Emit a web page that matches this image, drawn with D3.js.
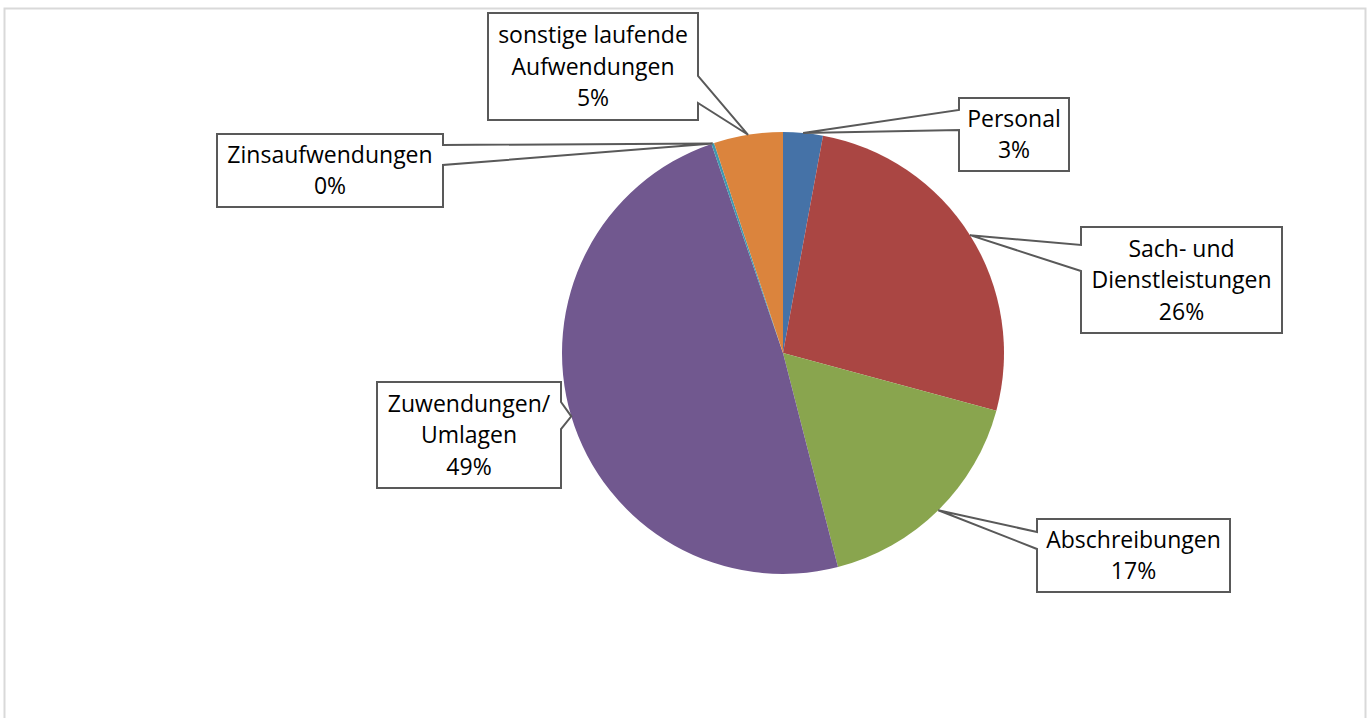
<!DOCTYPE html>
<html>
  <head>
    <meta http-equiv="Content-Type" content="text/html; charset=UTF-8">
    <style type="text/css">
      body { margin: 0; background: #fff; }
      text {
        font-family: 'Open Sans', sans-serif;
        font-size: 23px;
        fill: #000;
      }
    </style>
  </head>
  <body>
    <div id="canvas"></div>
    <script type="text/javascript" src="https://d3js.org/d3.v7.min.js"></script>
    <script type="text/javascript">

      // shares (percent of total)
      var categories = ['Personal', 'Sach- und Dienstleistungen', 'Abschreibungen',
                        'Zuwendungen/ Umlagen', 'Zinsaufwendungen', 'sonstige laufende Aufwendungen'];
      var values = [2.9, 26.3, 16.8, 48.75, 0.2, 5.05];
      var colors = ['#4572A7', '#AA4643', '#89A54E', '#71588F', '#4198AF', '#DB843D'];
      // how each label breaks into lines
      var labelLines = [
        ['Personal'],
        ['Sach- und', 'Dienstleistungen'],
        ['Abschreibungen'],
        ['Zuwendungen/', 'Umlagen'],
        ['Zinsaufwendungen'],
        ['sonstige laufende', 'Aufwendungen']
      ];

      // callout boxes: x0,y0,x1,y1 and which side the wedge leaves from
      var callouts = [
        {x0: 959, y0: 98,  x1: 1069, y1: 171, side: 'left',  b0: 110, b1: 130},
        {x0: 1081, y0: 227, x1: 1282, y1: 333, side: 'left',  b0: 245, b1: 271},
        {x0: 1037, y0: 519, x1: 1230, y1: 592, side: 'left',  b0: 532, b1: 549},
        {x0: 377, y0: 382, x1: 561, y1: 488, side: 'right', b0: 402, b1: 429},
        {x0: 217, y0: 134, x1: 443, y1: 207, side: 'right', b0: 145, b1: 165},
        {x0: 488, y0: 13,  x1: 698, y1: 120, side: 'right', b0: 76,  b1: 103}
      ];

      var width = 1370, height = 718;
      var cx = 783, cy = 353, radius = 221;

      var svg = d3.select('#canvas').append('svg')
                  .attr('width', width)
                  .attr('height', height);

      // chart frame
      svg.append('rect')
         .attr('x', 4.5).attr('y', 8.5)
         .attr('width', 1361).attr('height', 730)
         .attr('fill', 'none')
         .attr('stroke', '#d9d9d9')
         .attr('stroke-width', 2);

      var total = d3.sum(values);
      var pie = d3.pie().sort(null).value(function (d) { return d; });
      var arcs = pie(values);
      var arc = d3.arc().innerRadius(0).outerRadius(radius);

      var g = svg.append('g').attr('transform', 'translate(' + cx + ',' + cy + ')');
      g.selectAll('path')
        .data(arcs)
        .enter().append('path')
        .attr('d', arc)
        .attr('fill', function (d, i) { return colors[i]; });

      // callout shape = rectangle with a wedge going to the slice edge
      var calloutPath = function (c, tip) {
        var p = [];
        if (c.side === 'left') {
          p = [[c.x0, c.y0], [c.x1, c.y0], [c.x1, c.y1], [c.x0, c.y1],
               [c.x0, c.b1], tip, [c.x0, c.b0]];
        } else {
          p = [[c.x0, c.y0], [c.x1, c.y0], [c.x1, c.b0], tip,
               [c.x1, c.b1], [c.x1, c.y1], [c.x0, c.y1]];
        }
        return 'M' + p.map(function (q) { return q[0] + ',' + q[1]; }).join('L') + 'Z';
      };

      var labels = svg.append('g');
      arcs.forEach(function (d, i) {
        var c = callouts[i];
        var mid = (d.startAngle + d.endAngle) / 2;
        var tip = [cx + radius * Math.sin(mid), cy - radius * Math.cos(mid)];
        labels.append('path')
          .attr('d', calloutPath(c, tip))
          .attr('fill', '#fff')
          .attr('stroke', '#595959')
          .attr('stroke-width', 2)
          .attr('stroke-linejoin', 'miter');

        var lines = labelLines[i].concat([Math.round(values[i] / total * 100) + '%']);
        var mx = (c.x0 + c.x1) / 2, my = (c.y0 + c.y1) / 2;
        var lh = 31.5;
        lines.forEach(function (t, j) {
          labels.append('text')
            .attr('text-anchor', 'middle')
            .attr('x', mx)
            .attr('y', my + 8 + (j - (lines.length - 1) / 2) * lh)
            .text(t);
        });
      });

    </script>
  </body>
</html>
